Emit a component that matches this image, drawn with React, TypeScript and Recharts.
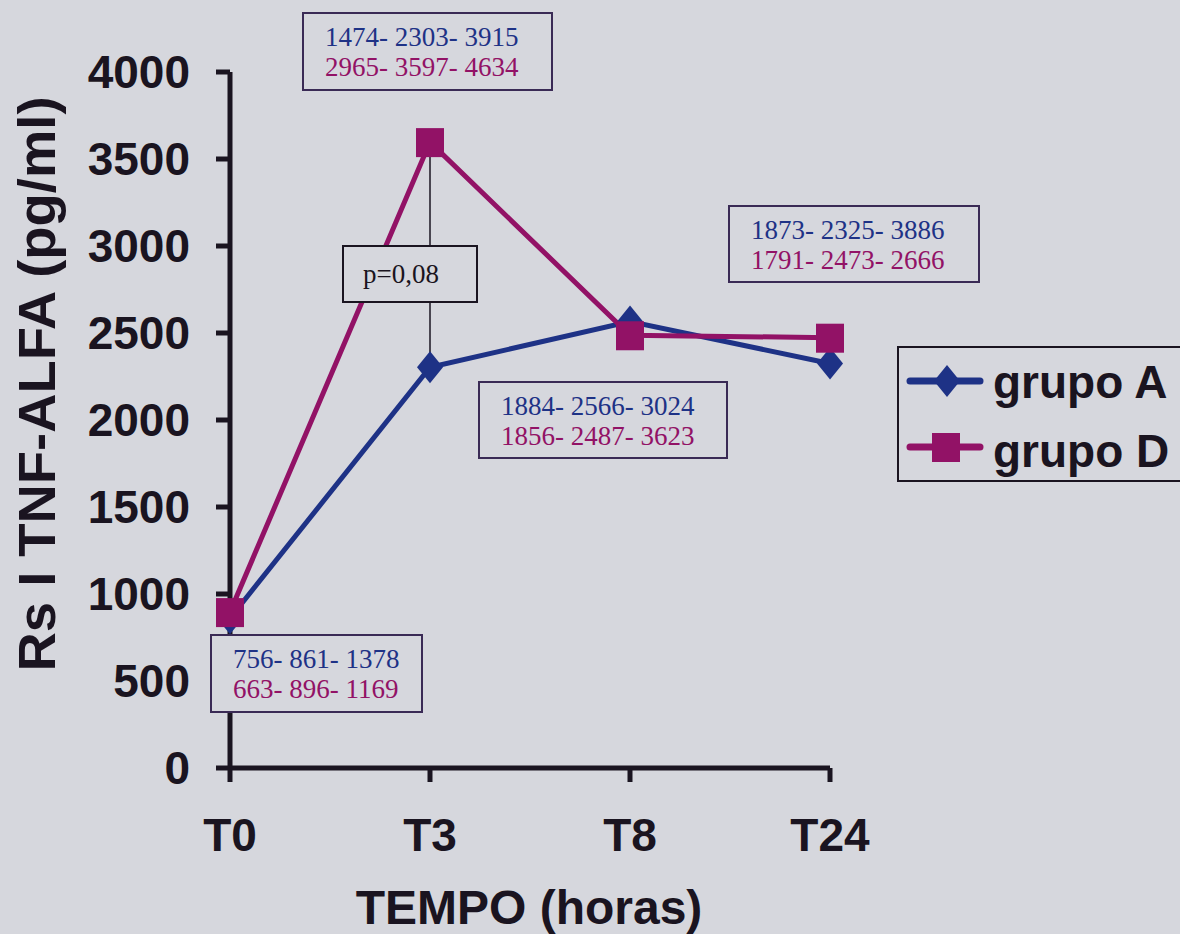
import { LineChart, Line, XAxis, YAxis, ReferenceLine } from 'recharts'

const tempos = ['T0', 'T3', 'T8', 'T24']
const grupoA = [861, 2303, 2566, 2325]
const grupoD = [896, 3597, 2487, 2473]
const yTicks = [0, 500, 1000, 1500, 2000, 2500, 3000, 3500, 4000]

// quartis (p25 - mediana - p75) como no slide
const caixas = [
  { left: 210, top: 634, w: 213, h: 79, a: '756- 861- 1378', d: '663- 896- 1169' },
  { left: 302, top: 12, w: 251, h: 79, a: '1474- 2303- 3915', d: '2965- 3597- 4634' },
  { left: 478, top: 381, w: 250, h: 78, a: '1884- 2566- 3024', d: '1856- 2487- 3623' },
  { left: 728, top: 205, w: 252, h: 78, a: '1873- 2325- 3886', d: '1791- 2473- 2666' },
]

const data = tempos.map((t, i) => ({ t, A: grupoA[i], D: grupoD[i] }))

const AZUL = '#1e3286'
const MAGENTA = '#921266'
const TINTA = '#1a1420'
const BORDA = '#3a2a55'
const FUNDO = '#d6d7dd'
const SANS = '"Liberation Sans", Arial, sans-serif'
const SERIF = '"Liberation Serif", "Times New Roman", serif'

const Diamante = (p: any) => {
  const { cx, cy } = p
  if (cx == null || cy == null) return null
  return <polygon points={`${cx},${cy - 16} ${cx + 13},${cy} ${cx},${cy + 16} ${cx - 13},${cy}`} fill={AZUL} />
}

const Quadrado = (p: any) => {
  const { cx, cy } = p
  if (cx == null || cy == null) return null
  return <rect x={cx - 14} y={cy - 14} width={28} height={29} fill={MAGENTA} />
}

const Legenda = () => (
  <svg width={300} height={140} style={{ position: 'absolute', left: 897, top: 346 }}>
    <rect x={1} y={1} width={310} height={134} fill="none" stroke={TINTA} strokeWidth={2} />
    <line x1={13} y1={35} x2={83} y2={35} stroke={AZUL} strokeWidth={7} strokeLinecap="round" />
    <polygon points="50,19 63,35 50,51 37,35" fill={AZUL} />
    <text x={96} y={52} fontSize={46} fontWeight={700} fontFamily={SANS} fill={TINTA}>grupo A</text>
    <line x1={13} y1={101} x2={83} y2={101} stroke={MAGENTA} strokeWidth={7} strokeLinecap="round" />
    <rect x={35} y={87} width={28} height={29} fill={MAGENTA} />
    <text x={96} y={121} fontSize={46} fontWeight={700} fontFamily={SANS} fill={TINTA}>grupo D</text>
  </svg>
)

export default function App() {
  return (
    <div style={{ position: 'absolute', left: 0, top: 0, width: 1180, height: 934, overflow: 'hidden', background: FUNDO }}>
      <LineChart width={1180} height={934} data={data} margin={{ top: 72, right: 350, bottom: 0, left: 100 }}>
        <XAxis
          dataKey="t"
          padding={{ left: 0, right: 0 }}
          stroke={TINTA}
          strokeWidth={5}
          tickSize={14}
          tickMargin={36}
          tick={{ fill: TINTA, fontSize: 46, fontWeight: 700, fontFamily: SANS }}
          height={166}
          label={() => (
            <text x={529} y={924} textAnchor="middle" fill={TINTA} fontSize={48} fontWeight={700} fontFamily={SANS}>
              TEMPO (horas)
            </text>
          )}
        />
        <YAxis
          domain={[0, 4000]}
          ticks={yTicks}
          interval={0}
          width={130}
          stroke={TINTA}
          strokeWidth={5}
          tickSize={14}
          tickMargin={26}
          tick={{ fill: TINTA, fontSize: 46, fontWeight: 700, fontFamily: SANS }}
          label={() => (
            <text x={55} y={384} transform="rotate(-90 55 384)" textAnchor="middle" fill={TINTA}
              fontSize={51} fontWeight={700} fontFamily={SANS} textLength={575} lengthAdjust="spacingAndGlyphs">
              Rs I TNF-ALFA (pg/ml)
            </text>
          )}
        />
        <ReferenceLine segment={[{ x: 'T3', y: grupoA[1] }, { x: 'T3', y: grupoD[1] }]} stroke={TINTA} strokeWidth={1.5} />
        <Line dataKey="A" name="grupo A" stroke={AZUL} strokeWidth={5} dot={Diamante} activeDot={false} isAnimationActive={false} />
        <Line dataKey="D" name="grupo D" stroke={MAGENTA} strokeWidth={5} dot={Quadrado} activeDot={false} isAnimationActive={false} />
      </LineChart>

      <Legenda />

      <div style={{
        position: 'absolute', left: 342, top: 245, width: 136, height: 58, boxSizing: 'border-box',
        border: `2px solid ${TINTA}`, background: FUNDO, fontFamily: SERIF, fontSize: 27, lineHeight: '30px',
        color: TINTA, paddingLeft: 19, paddingTop: 12,
      }}>p=0,08</div>

      {caixas.map((c) => (
        <div key={c.a} style={{
          position: 'absolute', left: c.left, top: c.top, width: c.w, height: c.h, boxSizing: 'border-box',
          border: `2px solid ${BORDA}`, background: FUNDO, fontFamily: SERIF, fontSize: 27, lineHeight: '30px',
          display: 'flex', flexDirection: 'column', paddingLeft: 21, paddingTop: 8, whiteSpace: 'nowrap',
        }}>
          <span style={{ color: AZUL }}>{c.a}</span>
          <span style={{ color: MAGENTA }}>{c.d}</span>
        </div>
      ))}
    </div>
  )
}
